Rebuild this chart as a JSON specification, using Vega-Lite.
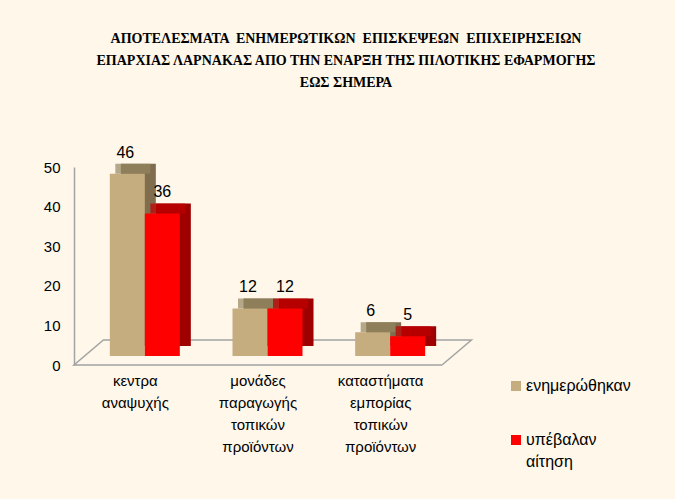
{
  "$schema": "https://vega.github.io/schema/vega-lite/v6.json",
  "width": 368,
  "height": 198,
  "autosize": "none",
  "padding": {"left": 74, "top": 167, "right": 233, "bottom": 134},
  "background": "#fef7ea",
  "title": {
    "text": ["ΑΠΟΤΕΛΕΣΜΑΤΑ \u00a0ΕΝΗΜΕΡΩΤΙΚΩΝ \u00a0ΕΠΙΣΚΕΨΕΩΝ \u00a0ΕΠΙΧΕΙΡΗΣΕΙΩΝ", "ΕΠΑΡΧΙΑΣ ΛΑΡΝΑΚΑΣ ΑΠΟ ΤΗΝ ΕΝΑΡΞΗ ΤΗΣ ΠΙΛΟΤΙΚΗΣ ΕΦΑΡΜΟΓΗΣ", "ΕΩΣ ΣΗΜΕΡΑ"],
    "font": "Liberation Sans Narrow",
    "fontSize": 14,
    "fontWeight": "bold",
    "lineHeight": 22,
    "anchor": "middle",
    "frame": "group",
    "dx": 88,
    "offset": 41,
    "baseline": "bottom",
    "color": "black"
  },
  "data": {"values": [
    {"cat": "κεντρα αναψυχής", "series": "ενημερώθηκαν", "value": 46},
    {"cat": "κεντρα αναψυχής", "series": "υπέβαλαν αίτηση", "value": 36},
    {"cat": "μονάδες παραγωγής τοπικών προϊόντων", "series": "ενημερώθηκαν", "value": 12},
    {"cat": "μονάδες παραγωγής τοπικών προϊόντων", "series": "υπέβαλαν αίτηση", "value": 12},
    {"cat": "καταστήματα εμπορίας τοπικών προϊόντων", "series": "ενημερώθηκαν", "value": 6},
    {"cat": "καταστήματα εμπορίας τοπικών προϊόντων", "series": "υπέβαλαν αίτηση", "value": 5}
  ]},
  "layer": [
    {
      "data": {"values": [
        {"fx": 1, "fy": 0, "o": 0},
        {"fx": 0, "fy": 0, "o": 1},
        {"fx": 0.08, "fy": 6.3, "o": 2},
        {"fx": 1.08, "fy": 6.3, "o": 3},
        {"fx": 1, "fy": 0, "o": 4}
      ]},
      "mark": {"type": "line", "color": "#a3a3a3", "strokeWidth": 1.5},
      "encoding": {
        "x": {"field": "fx", "type": "quantitative", "scale": {"domain": [0, 1], "nice": false, "zero": false}, "axis": null},
        "y": {"field": "fy", "type": "quantitative", "scale": {"domain": [0, 50], "nice": false},
              "axis": {"values": [0, 10, 20, 30, 40, 50], "labelOverlap": false, "grid": false, "ticks": false, "domainColor": "#a3a3a3", "domainWidth": 1.5, "labelPadding": 14, "labelFontSize": 15, "labelColor": "black", "labelFont": "Liberation Sans", "title": null}},
        "order": {"field": "o", "type": "quantitative"}
      }
    },
    {
      "encoding": {
        "x": {"field": "cat", "type": "nominal", "sort": null,
              "scale": {"paddingInner": 0, "paddingOuter": 0},
              "axis": {"domain": false, "ticks": false, "labelAngle": 0, "labelExpr": "split(datum.label, ' ')", "labelPadding": 8, "labelFontSize": 15, "labelLineHeight": 22, "labelBaseline": "top", "labelColor": "black", "labelFont": "Liberation Sans", "labelOverlap": false, "labelLimit": 0, "title": null}},
        "y": {"field": "value", "type": "quantitative",
              "axis": {"values": [0, 10, 20, 30, 40, 50], "labelOverlap": false, "grid": false, "ticks": false, "domainColor": "#a3a3a3", "domainWidth": 1.5, "labelPadding": 14, "labelFontSize": 15, "labelColor": "black", "labelFont": "Liberation Sans", "title": null}}
      },
      "layer": [
        {"transform": [{"filter": "datum.series == 'ενημερώθηκαν'"}], "mark": {"type": "bar", "width": 35, "xOffset": 3, "yOffset": -19, "color": "#7f6d4d"}},
        {"transform": [{"filter": "datum.series == 'ενημερώθηκαν'"}], "mark": {"type": "tick", "size": 35, "thickness": 10, "xOffset": -2.5, "yOffset": -14, "color": "#958660"}},
        {"transform": [{"filter": "datum.series == 'ενημερώθηκαν'"}], "mark": {"type": "bar", "width": 35, "xOffset": -8, "yOffset": -9},
         "encoding": {"color": {"field": "series", "type": "nominal", "scale": {"domain": ["ενημερώθηκαν", "υπέβαλαν αίτηση"], "range": ["#c6ad7f", "#ff0000"]},
           "legend": {"orient": "none", "legendX": 434, "legendY": 211, "title": null, "symbolType": "square", "symbolSize": 100, "symbolStrokeWidth": 0, "labelFontSize": 16, "labelFont": "Liberation Sans", "labelColor": "black", "labelOffset": 2, "labelExpr": "split(datum.label, ' ')", "labelLimit": 0, "rowPadding": 38}}}},
        {"transform": [{"filter": "datum.series == 'υπέβαλαν αίτηση'"}], "mark": {"type": "bar", "width": 35, "xOffset": 38, "yOffset": -19, "color": "#9e0000"}},
        {"transform": [{"filter": "datum.series == 'υπέβαλαν αίτηση'"}], "mark": {"type": "tick", "size": 35, "thickness": 10, "xOffset": 32.5, "yOffset": -14, "color": "#c00000"}},
        {"transform": [{"filter": "datum.series == 'υπέβαλαν αίτηση'"}], "mark": {"type": "bar", "width": 35, "xOffset": 27, "yOffset": -9},
         "encoding": {"color": {"field": "series", "type": "nominal"}}},
        {"transform": [{"filter": "datum.series == 'ενημερώθηκαν'"}], "mark": {"type": "text", "xOffset": -10, "yOffset": -25, "baseline": "alphabetic", "fontSize": 16, "font": "Liberation Sans", "color": "black"},
         "encoding": {"text": {"field": "value", "type": "quantitative"}}},
        {"transform": [{"filter": "datum.series == 'υπέβαλαν αίτηση'"}], "mark": {"type": "text", "xOffset": 27, "yOffset": -25, "baseline": "alphabetic", "fontSize": 16, "font": "Liberation Sans", "color": "black"},
         "encoding": {"text": {"field": "value", "type": "quantitative"}}}
      ]
    }
  ],
  "resolve": {"scale": {"x": "independent"}},
  "config": {"view": {"stroke": null}, "font": "Liberation Sans", "style": {"guide-label": {"lineHeight": 22}}}
}
